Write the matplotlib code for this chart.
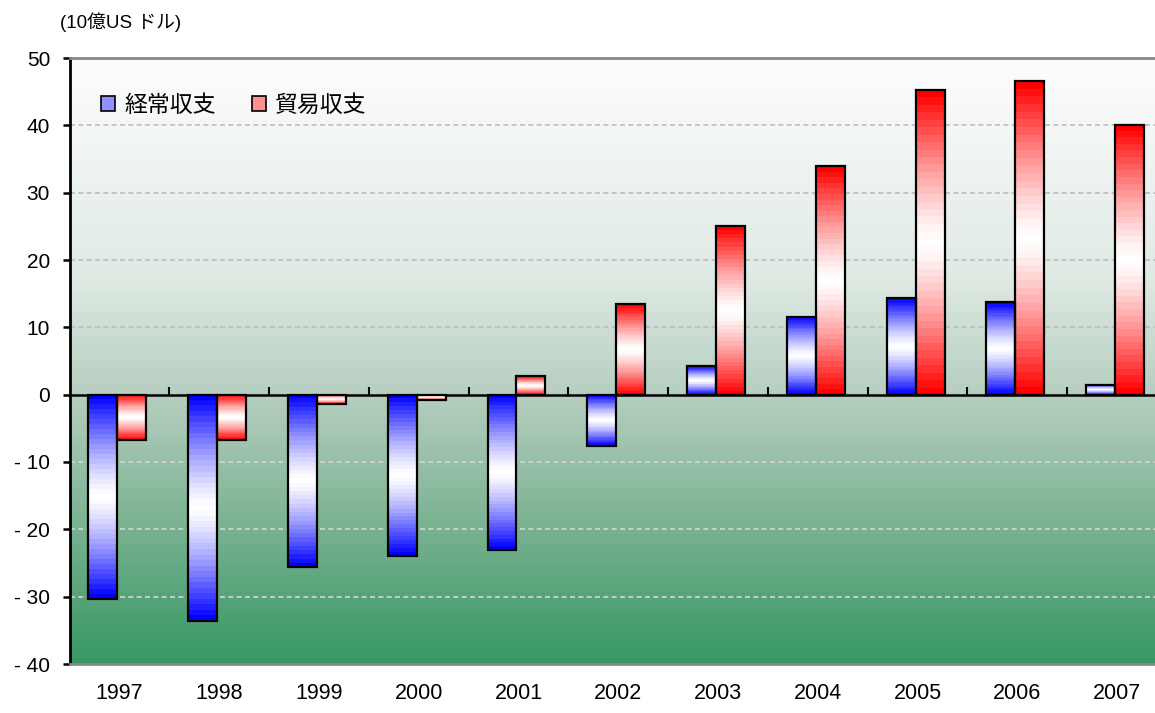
import numpy as np
import matplotlib
matplotlib.use("Agg")
import matplotlib.pyplot as plt
from matplotlib.colors import LinearSegmentedColormap
from matplotlib.patches import Patch

plt.rcParams['font.family'] = ['Liberation Sans', 'Noto Sans CJK JP', 'DejaVu Sans']

# data (10億USドル)
years = ['1997', '1998', '1999', '2000', '2001', '2002', '2003', '2004', '2005', '2006', '2007']
current_account = [-30.3, -33.6, -25.6, -24.0, -23.1, -7.6, 4.2, 11.6, 14.3, 13.7, 1.5]
trade_balance = [-6.8, -6.8, -1.4, -0.8, 2.7, 13.4, 25.0, 33.9, 45.2, 46.6, 40.1]
series_names = ['経常収支', '貿易収支']
y_ticks = [50, 40, 30, 20, 10, 0, -10, -20, -30, -40]
y_labels = ['50', '40', '30', '20', '10', '0', '- 10', '- 20', '- 30', '- 40']

fig = plt.figure(figsize=(11.55, 7.13), dpi=100)
W, H = 1155, 713
ax = fig.add_axes([69.5 / W, (H - 664) / H, (1167 - 69.5) / W, 606 / H])

# background gradient white -> green
bg_cmap = LinearSegmentedColormap.from_list('bg', [
    (0.0, '#fdfdfd'), (0.35, '#e1ebe5'), (0.56, '#b5cebf'),
    (0.75, '#80b596'), (1.0, '#379764')])
bg = np.linspace(0, 1, 256).reshape(-1, 1)
ax.imshow(bg, cmap=bg_cmap, extent=[0, 1, 0, 1], transform=ax.transAxes,
          aspect='auto', zorder=0, interpolation='bilinear')

# bar fill: strong colour at both ends, white in the middle
blue_cmap = LinearSegmentedColormap.from_list('b', ['#ffffff', '#0000ff'])
red_cmap = LinearSegmentedColormap.from_list('r', ['#ffffff', '#ff0000'])
steps = (np.abs(np.linspace(-1, 1, 41)) ** 1.3).reshape(-1, 1)

x = np.arange(len(years))
bw = 0.29
offsets = [-0.165, 0.125]
for vals, off, cmap in [(current_account, offsets[0], blue_cmap), (trade_balance, offsets[1], red_cmap)]:
    for xi, v in zip(x, vals):
        x0 = xi + off - bw / 2
        ax.imshow(steps, cmap=cmap, vmin=0, vmax=1, extent=[x0, x0 + bw, 0, v],
                  aspect='auto', zorder=2, interpolation='nearest', origin='lower')
    ax.bar(x + off, vals, width=bw, fill=False, edgecolor='black', linewidth=1.6, zorder=3)

ax.set_xlim(-0.5, 10.5)
ax.set_ylim(-40, 50)

# grid
for yv in y_ticks:
    if yv in (0, 50, -40):
        continue
    ax.axhline(yv, color='#bdbdbd' if yv > 0 else '#d5d5d5', ls=(0, (3, 2)), lw=1.2, zorder=1)

# spines
ax.spines['right'].set_visible(False)
ax.spines['top'].set_color('#888888')
ax.spines['top'].set_linewidth(2)
ax.spines['bottom'].set_color('#888888')
ax.spines['bottom'].set_linewidth(2)
ax.spines['left'].set_linewidth(2)

ax.set_yticks(y_ticks)
ax.set_yticklabels(y_labels, fontsize=15)
ax.tick_params(axis='y', direction='out', length=5, width=1.8, pad=9)
ax.set_xticks(x)
ax.set_xticklabels(years, fontsize=15.5)
ax.tick_params(axis='x', length=0, pad=14)

# zero axis with category boundary ticks
zero_ax = ax.secondary_xaxis(40 / 90)
zero_ax.set_xticks(np.arange(0.5, 10.5, 1))
zero_ax.set_xticklabels([])
zero_ax.tick_params(direction='in', length=6, width=1.5)
zero_ax.spines['bottom'].set_linewidth(1.8)
zero_ax.spines['bottom'].set_zorder(4)

# legend
handles = [Patch(facecolor='#9090ff', edgecolor='black', linewidth=1.2),
           Patch(facecolor='#ff9090', edgecolor='black', linewidth=1.2)]
ax.legend(handles, series_names, loc='upper left', bbox_to_anchor=(0.01, 0.975),
          ncol=2, frameon=False, fontsize=16.5, handlelength=0.6, handleheight=0.6,
          handletextpad=0.4, columnspacing=1.6)

fig.text(60 / W, 1 - 22 / H, '(10億US ドル)', fontsize=13.5, ha='left', va='center')

fig.savefig('out.png', dpi=100)
